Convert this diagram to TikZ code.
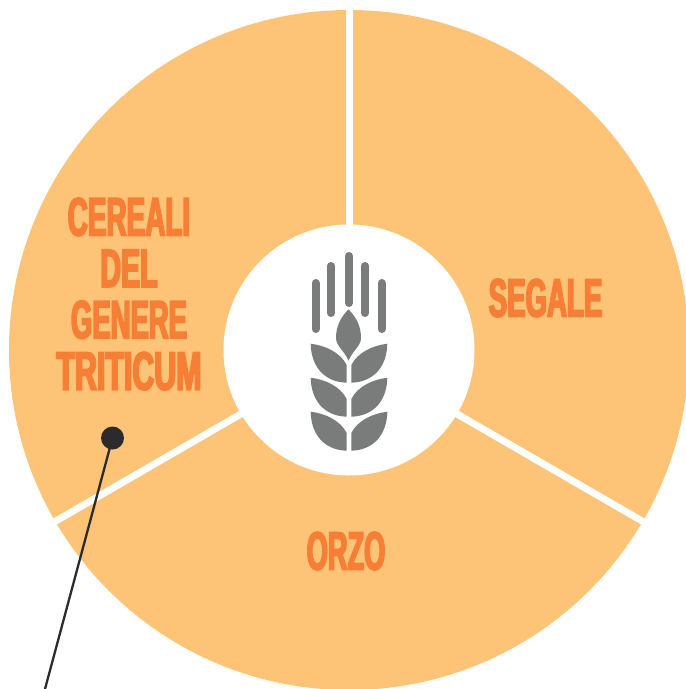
\documentclass[tikz,border=0pt]{standalone}
\usepackage{fontspec}
\usepackage{graphicx}
\newfontfamily\labelfont[FakeStretch=0.53,FakeBold=3.2]{Liberation Sans Bold}
\definecolor{wedgefill}{HTML}{FDC377}
\definecolor{labelcol}{HTML}{F77F35}
\definecolor{wheatcol}{HTML}{7A7C7B}
\definecolor{inkcol}{HTML}{2B2B2B}
\tikzset{
  lbl/.style={text=labelcol,align=center,inner sep=0pt,font={\labelfont\fontsize{54}{51.4}\selectfont}},
  gapline/.style={white,line width=7pt},
  awn/.style={wheatcol,line width=8pt,line cap=round},
  grain/.style={fill=wheatcol,draw=none}
}
\newcommand{\leafpair}[1]{%
  \fill[grain,shift={(0,#1)}] (346.7,365) .. controls (340,352) and (325,345.5) .. (310.7,343.7)
    .. controls (311,365) and (323,382) .. (346.7,382.7) -- cycle;
  \fill[grain,shift={(0,#1)}] (351.3,365) .. controls (358,352) and (373,345.5) .. (387.3,343.7)
    .. controls (387,365) and (375,382) .. (351.3,382.7) -- cycle;
}
\begin{document}
\begin{tikzpicture}[x=1pt,y=-1pt]
\useasboundingbox (0,0) rectangle (686,689);
\clip (0,0) rectangle (686,689);
\coordinate (c) at (349,350);
\coordinate (cg) at (349,351.5);
\fill[wedgefill] (c) circle (340);
\coordinate (g1) at (349,5);
\coordinate (g2) at (649,525);
\coordinate (g3) at (49,525);
\draw[gapline] (cg) -- (g1);
\draw[gapline] (cg) -- (g2);
\draw[gapline] (cg) -- (g3);
\node[circle,fill=white,minimum size=251pt,inner sep=0pt] (hub) at (c) {};
% wheat
\coordinate (a1t) at (315.5,283); \coordinate (a1b) at (315.5,329);
\coordinate (a2t) at (331,266); \coordinate (a2b) at (331,313);
\coordinate (a3t) at (349,256); \coordinate (a3b) at (349,303);
\coordinate (a4t) at (365,266); \coordinate (a4b) at (365,313);
\coordinate (a5t) at (381.5,283); \coordinate (a5b) at (381.5,329);
\draw[awn] (a1t) -- (a1b);
\draw[awn] (a2t) -- (a2b);
\draw[awn] (a3t) -- (a3b);
\draw[awn] (a4t) -- (a4b);
\draw[awn] (a5t) -- (a5b);
\fill[grain] (348.5,309.3) .. controls (340,318) and (336,327) .. (336,338)
  .. controls (336,346) and (344,350) .. (348.5,360.7)
  .. controls (353,350) and (361,346) .. (361,338)
  .. controls (361,327) and (357,318) .. (348.5,309.3) -- cycle;
\leafpair{0}
\leafpair{34}
\leafpair{68}
% labels
\node[lbl] (cereali) at (129,294) {\scalebox{0.975}[1]{CEREALI}\\DEL\\\scalebox{0.96}[1]{GENERE}\\\scalebox{1.06}[1]{TRITICUM}};
\node[lbl] (segale) at (545.5,298) {\scalebox{0.965}[1]{SEGALE}};
\node[lbl] (orzo) at (346,551) {\scalebox{0.95}[1]{ORZO}};
% pointer
\node[circle,fill=inkcol,minimum size=23pt,inner sep=0pt] (dot) at (112.5,438) {};
\coordinate (tail) at (45,689);
\draw[inkcol,line width=2.3pt] (dot.center) -- (tail);
\end{tikzpicture}
\end{document}
